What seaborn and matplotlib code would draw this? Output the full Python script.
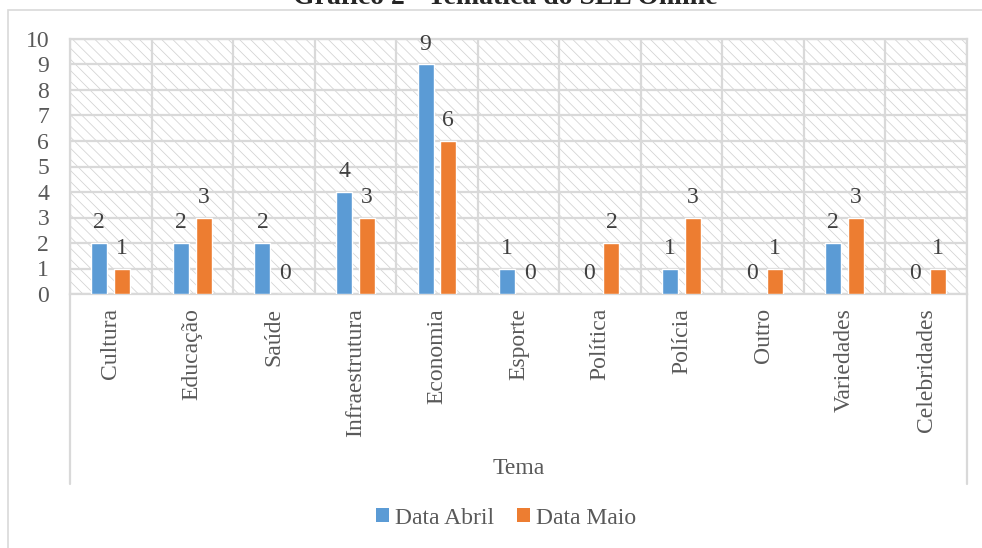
import matplotlib
matplotlib.use("Agg")
import matplotlib.pyplot as plt
import seaborn as sns
import pandas as pd
from matplotlib.patches import Rectangle, Patch

# Chart data
temas = ["Cultura", "Educação", "Saúde", "Infraestrutura", "Economia", "Esporte",
         "Política", "Polícia", "Outro", "Variedades", "Celebridades"]
data_abril = [2, 2, 2, 4, 9, 1, 0, 1, 0, 2, 0]
data_maio = [1, 3, 0, 3, 6, 0, 2, 3, 1, 3, 1]
series = ["Data Abril", "Data Maio"]
cores = ["#5B9BD5", "#ED7D31"]
y_ticks = list(range(0, 11))
titulo = "Gráfico 2 - Temática do SEL Online"
eixo_x = "Tema"

sns.set_theme(style="white")
plt.rcParams["font.family"] = ["Liberation Serif", "DejaVu Serif"]
plt.rcParams["hatch.linewidth"] = 0.55

TXT = "#595959"
LBL = "#404040"
GRID = "#d9d9d9"
FS = 17

df = pd.DataFrame({
    "Tema": temas * 2,
    "Quantidade": data_abril + data_maio,
    "Serie": [series[0]] * len(temas) + [series[1]] * len(temas),
})

W, H = 982, 548
fig = plt.figure(figsize=(W / 100, H / 100), dpi=100)

# outer chart frame (top and left edges visible)
fig.add_artist(Rectangle((8 / W, -0.1), 1.2, 1 - 10 / H + 0.1,
                         transform=fig.transFigure, facecolor="none",
                         edgecolor=GRID, lw=1.2))

ax = fig.add_axes([70 / W, 1 - 294 / H, (967 - 70) / W, (294 - 39) / H])

# hatched plot-area background
ax.add_patch(Rectangle((0, 0), 1, 1, transform=ax.transAxes, facecolor="white",
                       edgecolor="#d2d2d2", hatch="\\\\\\", lw=0, zorder=0))

sns.barplot(data=df, x="Tema", y="Quantidade", hue="Serie", palette=cores,
            saturation=1, width=0.56, gap=0.3, legend=False, ax=ax, zorder=3)

for cont in ax.containers:
    ax.bar_label(cont, fmt="%d", padding=7, fontsize=FS, color=LBL)

ax.set_xlim(-0.5, len(temas) - 0.5)
ax.set_ylim(0, 10)
ax.set_yticks(y_ticks)
ax.set_yticklabels([str(v) for v in y_ticks])
ax.set_xticks(range(len(temas)))
ax.set_xticklabels(temas, rotation=90, va="top", ha="center")
ax.set_xticks([i - 0.5 for i in range(len(temas) + 1)], minor=True)
ax.tick_params(axis="both", which="both", length=0, labelsize=FS, labelcolor=TXT)
ax.tick_params(axis="y", pad=15)
ax.tick_params(axis="x", pad=10)
ax.set_axisbelow(True)
ax.yaxis.grid(True, color=GRID, lw=1.6)
ax.xaxis.grid(True, which="minor", color=GRID, lw=1.6)
ax.xaxis.grid(False, which="major")
ax.set_xlabel("")
ax.set_ylabel("")
for s in ax.spines.values():
    s.set_color(GRID)
    s.set_linewidth(1.6)

# category axis side edges
for xv in (-0.5, len(temas) - 0.5):
    ax.axvline(xv, ymin=-(484 - 294) / 255, ymax=0, color=GRID, lw=1.6, clip_on=False)

ax.text(0.5, -(468 - 294) / 255, eixo_x, transform=ax.transAxes, ha="center",
        va="center", fontsize=FS, color=TXT)

fig.text(505 / W, 1 - 4 / H, titulo, ha="center", va="baseline", fontsize=20,
         fontweight="bold", color="#262626")

handles = [Patch(facecolor=c, edgecolor="none") for c in cores]
fig.legend(handles, series, loc="center", bbox_to_anchor=(506 / W, 1 - 518 / H),
           ncol=2, frameon=False, fontsize=FS, labelcolor=TXT, handlelength=0.55,
           handleheight=0.55, handletextpad=0.25, columnspacing=1.0)

fig.savefig("out.png", dpi=100)
